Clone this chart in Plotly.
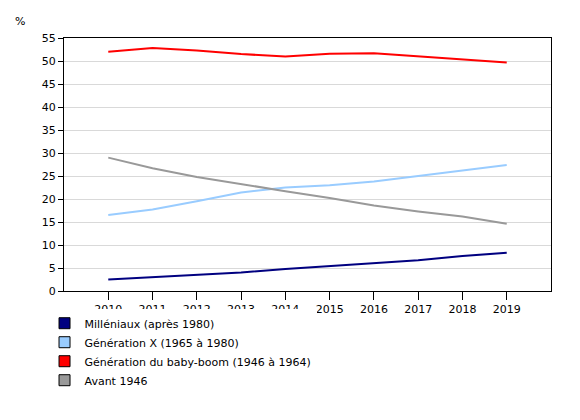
import plotly.graph_objects as go

years = [2010, 2011, 2012, 2013, 2014, 2015, 2016, 2017, 2018, 2019]
millenials = [2.5, 3.0, 3.5, 4.0, 4.8, 5.4, 6.0, 6.7, 7.6, 8.3]
gen_x = [16.5, 17.7, 19.5, 21.4, 22.5, 23.0, 23.8, 25.0, 26.1, 27.4]
boomers = [52.0, 52.8, 52.3, 51.5, 51.0, 51.6, 51.7, 51.0, 50.3, 49.7]
before_1946 = [29.0, 26.7, 24.8, 23.2, 21.7, 20.2, 18.6, 17.3, 16.2, 14.6]

series = [
    ("Milléniaux (après 1980)", millenials, "#000080"),
    ("Génération X (1965 à 1980)", gen_x, "#99ccff"),
    ("Génération du baby-boom (1946 à 1964)", boomers, "#ff0000"),
    ("Avant 1946", before_1946, "#999999"),
]

fig = go.Figure()
for name, vals, col in series:
    fig.add_trace(go.Scatter(x=years, y=vals, mode="lines", line=dict(color=col, width=2),
                             showlegend=False, name=name))
    # legend-only square swatch
    fig.add_trace(go.Scatter(x=[None], y=[None], mode="markers", name=name,
                             marker=dict(symbol="square", size=11, color=col,
                                         line=dict(color="black", width=1))))

fig.update_layout(
    width=580, height=420,
    margin=dict(l=56, r=37, t=30, b=137),
    plot_bgcolor="white", paper_bgcolor="white",
    font=dict(family="DejaVu Sans", size=11, color="black"),
    legend=dict(x=-0.04, y=-0.07, xanchor="left", yanchor="top",
                tracegroupgap=14, font=dict(size=11)),
    annotations=[dict(text="%", x=-0.105, y=1.03, xref="paper", yref="paper",
                      xanchor="left", yanchor="bottom", showarrow=False)],
)
fig.update_xaxes(range=[2009, 2020], tickvals=years, showgrid=False,
                 showline=True, linecolor="black", mirror=True,
                 ticks="outside", ticklen=8, tickcolor="black")
fig.update_yaxes(range=[0, 55], dtick=5, gridcolor="#d9d9d9",
                 showline=True, linecolor="black", mirror=True, zeroline=False,
                 ticks="outside", ticklen=5, tickcolor="black")

fig.write_html("out.html")
